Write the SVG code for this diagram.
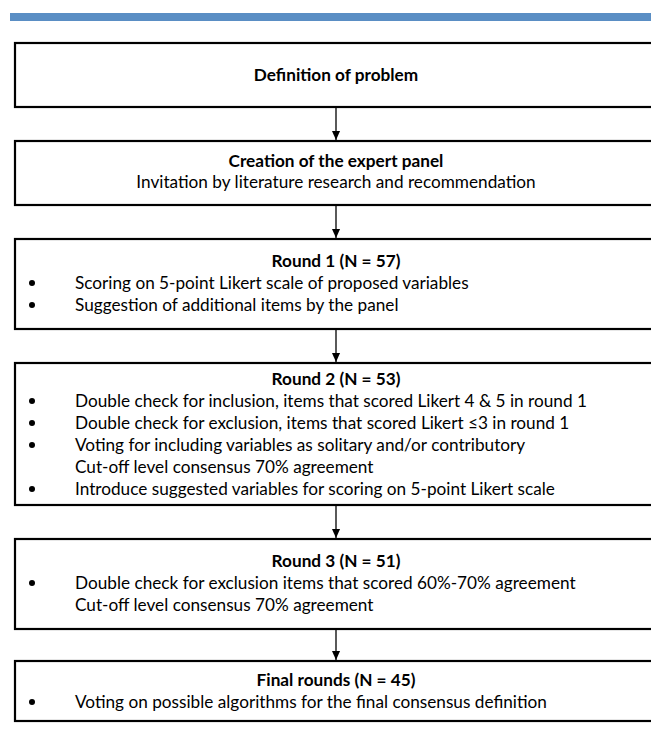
<svg xmlns="http://www.w3.org/2000/svg" width="651" height="740" viewBox="0 0 651 740">
<defs>
<style>
.box{fill:#fff;stroke:#000;stroke-width:2.2}
.t{font-family:Lato,"Open Sans","Liberation Sans",sans-serif;font-size:17.2px;fill:#000}
.b{font-weight:bold}
.c{text-anchor:middle}
.conn{stroke:#000;stroke-width:1.3;fill:none}
</style>
<marker id="ah" viewBox="0 0 10 10" refX="10" refY="5" markerWidth="9" markerHeight="9" markerUnits="userSpaceOnUse" orient="auto">
<path d="M0,0.5 L10,5 L0,9.5 Z" fill="#000"/>
</marker>
</defs>
<rect x="0" y="0" width="651" height="740" fill="#fff"/>
<rect x="10" y="13" width="641" height="8" fill="#5a8ec4"/>

<g id="connectors">
<line class="conn" x1="336" y1="107" x2="336" y2="140" marker-end="url(#ah)"/>
<line class="conn" x1="336" y1="205" x2="336" y2="238" marker-end="url(#ah)"/>
<line class="conn" x1="336" y1="329" x2="336" y2="362" marker-end="url(#ah)"/>
<line class="conn" x1="336" y1="505" x2="336" y2="538" marker-end="url(#ah)"/>
<line class="conn" x1="336" y1="629" x2="336" y2="660" marker-end="url(#ah)"/>
</g>

<g id="n1">
<rect class="box" x="15" y="43" width="660" height="64"/>
<text class="t b c" x="336" y="81">Definition of problem</text>
</g>

<g id="n2">
<rect class="box" x="15" y="141" width="660" height="64"/>
<text class="t b c" x="336" y="167">Creation of the expert panel</text>
<text class="t c" x="336" y="188">Invitation by literature research and recommendation</text>
</g>

<g id="n3">
<rect class="box" x="15" y="239" width="660" height="90"/>
<text class="t b c" x="336" y="267">Round 1 (N = 57)</text>
<circle cx="32" cy="283" r="3"/>
<text class="t" x="75" y="289">Scoring on 5-point Likert scale of proposed variables</text>
<circle cx="32" cy="305" r="3"/>
<text class="t" x="75" y="311">Suggestion of additional items by the panel</text>
</g>

<g id="n4">
<rect class="box" x="15" y="363" width="660" height="142"/>
<text class="t b c" x="336" y="385">Round 2 (N = 53)</text>
<circle cx="32" cy="401" r="3"/>
<text class="t" x="75" y="407">Double check for inclusion, items that scored Likert 4 &amp; 5 in round 1</text>
<circle cx="32" cy="423" r="3"/>
<text class="t" x="75" y="429">Double check for exclusion, items that scored Likert ≤3 in round 1</text>
<circle cx="32" cy="445" r="3"/>
<text class="t" x="75" y="451">Voting for including variables as solitary and/or contributory</text>
<text class="t" x="75" y="473">Cut-off level consensus 70% agreement</text>
<circle cx="32" cy="489" r="3"/>
<text class="t" x="75" y="495">Introduce suggested variables for scoring on 5-point Likert scale</text>
</g>

<g id="n5">
<rect class="box" x="15" y="539" width="660" height="90"/>
<text class="t b c" x="336" y="567">Round 3 (N = 51)</text>
<circle cx="32" cy="583" r="3"/>
<text class="t" x="75" y="589">Double check for exclusion items that scored 60%-70% agreement</text>
<text class="t" x="75" y="611">Cut-off level consensus 70% agreement</text>
</g>

<g id="n6">
<rect class="box" x="15" y="661" width="660" height="60"/>
<text class="t b c" x="336" y="686">Final rounds (N = 45)</text>
<circle cx="32" cy="702" r="3"/>
<text class="t" x="75" y="708">Voting on possible algorithms for the final consensus definition</text>
</g>
</svg>
